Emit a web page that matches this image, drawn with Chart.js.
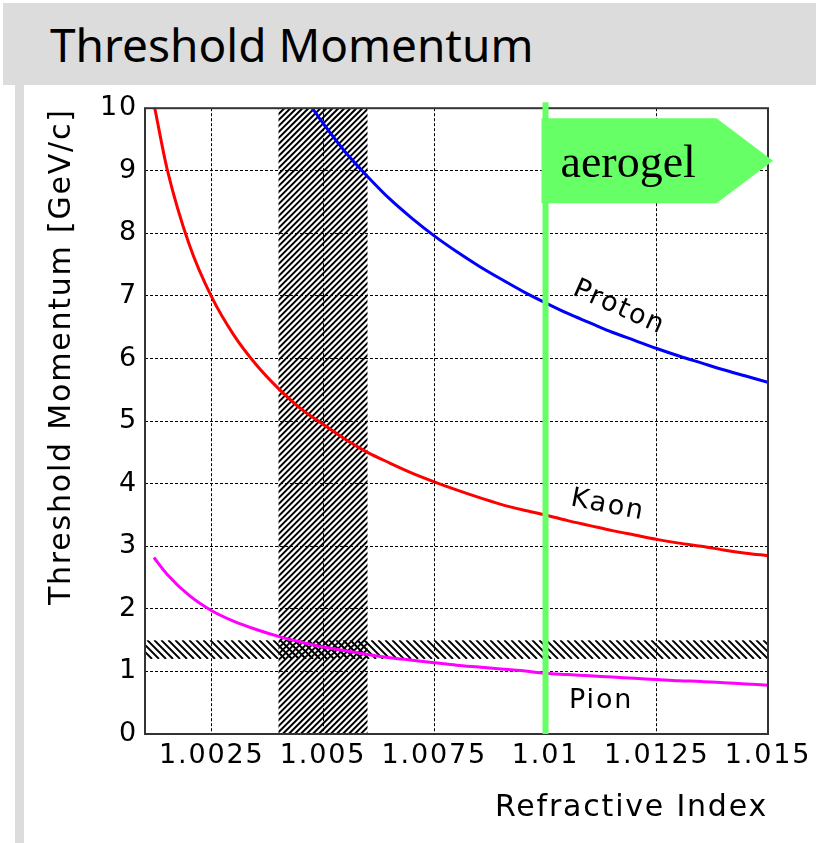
<!DOCTYPE html>
<html>
<head>
<meta charset="utf-8">
<title>Threshold Momentum</title>
<script src="https://cdn.jsdelivr.net/npm/chart.js@4.4.0/dist/chart.umd.min.js"></script>
<style>
    body { margin: 0; background: #ffffff; width: 816px; height: 843px; overflow: hidden; position: relative; }
    #Header { position: absolute; left: 3px; top: 3px; width: 813px; height: 82px; background: #dcdcdc; }
    #Header h1 { margin: 0; position: absolute; left: 47px; top: 10px; font: 400 46px "Comic Sans MS", "Noto Sans", sans-serif; color: #000; white-space: nowrap; }
    #Strip { position: absolute; left: 15px; top: 85px; width: 9px; height: 758px; background: #dcdcdc; }
    #ChartBox { position: absolute; left: 24px; top: 85px; width: 792px; height: 758px; }
</style>
</head>
<body>
<div id="Header"><h1>Threshold Momentum</h1></div>
<div id="Strip"></div>
<div id="ChartBox"><canvas id="ChartCanvas"></canvas></div>

<script>
// Axis ticks
const xTicks = [1.0025, 1.005, 1.0075, 1.01, 1.0125, 1.015];
const xTickLabels = ['1.0025', '1.005', '1.0075', '1.01', '1.0125', '1.015'];

// Curves (refractive index -> threshold momentum in GeV/c)
const protonIndex = [1.00476, 1.005, 1.0055, 1.006, 1.0065, 1.007, 1.0075, 1.008, 1.0085, 1.009, 1.0095,
                     1.01, 1.0105, 1.011, 1.0115, 1.012, 1.0125, 1.013, 1.0135, 1.014, 1.0145, 1.015];
const protonMomentum = [10.0, 9.76, 9.30, 8.91, 8.55, 8.24, 7.96, 7.71, 7.48, 7.27, 7.07,
                        6.89, 6.72, 6.57, 6.42, 6.29, 6.16, 6.04, 5.93, 5.82, 5.72, 5.62];

const kaonIndex = [1.00122, 1.0015, 1.002, 1.0025, 1.003, 1.0035, 1.004, 1.0045, 1.005, 1.0055, 1.006,
                   1.0065, 1.007, 1.0075, 1.008, 1.0085, 1.009, 1.0095, 1.01, 1.0105, 1.011,
                   1.0115, 1.012, 1.0125, 1.013, 1.0135, 1.014, 1.0145, 1.015];
const kaonMomentum = [10.0, 9.02, 7.81, 6.98, 6.37, 5.90, 5.52, 5.20, 4.95, 4.71, 4.50,
                      4.33, 4.17, 4.03, 3.90, 3.78, 3.67, 3.58, 3.50, 3.41, 3.33,
                      3.25, 3.18, 3.11, 3.05, 3.00, 2.94, 2.89, 2.85];

const pionIndex = [1.0012, 1.0015, 1.002, 1.0025, 1.003, 1.0035, 1.004, 1.0045, 1.005, 1.0055, 1.006,
                   1.0065, 1.007, 1.0075, 1.008, 1.0085, 1.009, 1.0095, 1.01, 1.0105, 1.011,
                   1.0115, 1.012, 1.0125, 1.013, 1.0135, 1.014, 1.0145, 1.015];
const pionMomentum = [2.82, 2.55, 2.21, 1.97, 1.80, 1.67, 1.56, 1.47, 1.39, 1.33, 1.27,
                      1.22, 1.18, 1.14, 1.10, 1.07, 1.04, 1.01, 0.97, 0.95, 0.93,
                      0.91, 0.89, 0.87, 0.85, 0.84, 0.82, 0.80, 0.78];

// Hatched bands and the aerogel marker
const indexBand = [1.004, 1.006];
const momentumBand = [1.2, 1.5];
const aerogelIndex = 1.01;

Initialize();

function Initialize()
{
    const ctx = document.getElementById('ChartCanvas').getContext('2d');
    const tickFont = { family: '"DejaVu Sans", sans-serif', size: 27 };
    const titleFont = { family: '"DejaVu Sans", sans-serif', size: 30 };

    new Chart(ctx,
    {
        type: 'line',
        data:
        {
            datasets:
            [
                MakeSeries('Proton', protonIndex, protonMomentum, '#0000ff'),
                MakeSeries('Kaon', kaonIndex, kaonMomentum, '#ff0000'),
                MakeSeries('Pion', pionIndex, pionMomentum, '#ff00ff')
            ]
        },
        options:
        {
            responsive: true,
            maintainAspectRatio: false,
            animation: false,
            layout: { padding: { top: 22, right: 48, left: 0, bottom: 0 } },
            plugins: { legend: { display: false }, tooltip: { enabled: false } },
            scales:
            {
                x:
                {
                    type: 'linear',
                    min: 1.001,
                    max: 1.015,
                    afterBuildTicks: scale => { scale.ticks = xTicks.map(v => ({ value: v })); },
                    afterFit: scale => { scale.height = 109; },
                    ticks:
                    {
                        color: '#000',
                        font: tickFont,
                        padding: 6,
                        maxRotation: 0,
                        autoSkip: false,
                        callback: value => xTickLabels[xTicks.indexOf(value)]
                    },
                    grid: { color: '#000', lineWidth: 1, drawTicks: false },
                    border: { display: false, dash: [3, 2] },
                    title:
                    {
                        display: true,
                        text: 'Refractive Index',
                        align: 'end',
                        color: '#000',
                        font: titleFont,
                        padding: { top: 0, bottom: 17 }
                    }
                },
                y:
                {
                    min: 0,
                    max: 10,
                    afterFit: scale => { scale.width = 121; },
                    ticks: { stepSize: 1, color: '#000', font: tickFont, padding: 7 },
                    grid: { color: '#000', lineWidth: 1, drawTicks: false },
                    border: { display: false, dash: [3, 2] },
                    title:
                    {
                        display: true,
                        text: 'Threshold Momentum [GeV/c]',
                        align: 'end',
                        color: '#000',
                        font: titleFont,
                        padding: { top: 20, bottom: 0 }
                    }
                }
            }
        },
        plugins: [OverlayPlugin()]
    });
}

function MakeSeries(name, xs, ys, color)
{
    return {
        label: name,
        data: xs.map((x, i) => ({ x: x, y: ys[i] })),
        borderColor: color,
        borderWidth: 3,
        pointRadius: 0,
        cubicInterpolationMode: 'monotone',
        fill: false
    };
}

function Hatch(ctx, x0, y0, x1, y1, upward, gap)
{
    ctx.save();
    ctx.beginPath();
    ctx.rect(x0, y0, x1 - x0, y1 - y0);
    ctx.clip();
    ctx.strokeStyle = '#000';
    ctx.lineWidth = 2;
    const h = y1 - y0;
    ctx.beginPath();
    for (let x = x0 - h; x < x1 + h; x += gap)
    {
        if (upward) { ctx.moveTo(x, y1); ctx.lineTo(x + h, y0); }
        else { ctx.moveTo(x, y0); ctx.lineTo(x + h, y1); }
    }
    ctx.stroke();
    ctx.restore();
}

function OverlayPlugin()
{
    return {
        id: 'overlay',
        beforeDraw(chart)
        {
            // the ROOT-style labels are spaced out a little
            chart.ctx.letterSpacing = '1.8px';
        },
        beforeDatasetsDraw(chart)
        {
            const { ctx, chartArea: a, scales: { x, y } } = chart;
            // Hatched regions behind the curves
            Hatch(ctx, x.getPixelForValue(indexBand[0]), a.top, x.getPixelForValue(indexBand[1]), a.bottom, true, 6);
            Hatch(ctx, a.left, y.getPixelForValue(momentumBand[1]), a.right, y.getPixelForValue(momentumBand[0]), false, 7);
        },
        afterDatasetsDraw(chart)
        {
            const { ctx, chartArea: a, scales: { x, y } } = chart;
            ctx.save();

            // Plot frame
            ctx.strokeStyle = '#333';
            ctx.lineWidth = 2;
            ctx.strokeRect(a.left, a.top, a.right - a.left, a.bottom - a.top);

            // Curve labels
            ctx.fillStyle = '#000';
            DrawLabel(ctx, 'Proton', x.getPixelForValue(1.01165), y.getPixelForValue(6.81), 24, '27px "DejaVu Sans", sans-serif');
            DrawLabel(ctx, 'Kaon', x.getPixelForValue(1.0114), y.getPixelForValue(3.65), 11, '27px "DejaVu Sans", sans-serif');
            DrawLabel(ctx, 'Pion', x.getPixelForValue(1.01125), y.getPixelForValue(0.52), 0, '27px "DejaVu Sans", sans-serif');

            // Aerogel line
            const gx = x.getPixelForValue(aerogelIndex);
            ctx.strokeStyle = '#66ff66';
            ctx.lineWidth = 6;
            ctx.beginPath();
            ctx.moveTo(gx, a.top - 6);
            ctx.lineTo(gx, a.bottom);
            ctx.stroke();

            // Aerogel arrow flag
            const left = gx - 4;
            const top = a.top + 10;
            const bottom = top + 85;
            ctx.fillStyle = '#66ff66';
            ctx.beginPath();
            ctx.moveTo(left, top);
            ctx.lineTo(left + 175, top);
            ctx.lineTo(a.right + 5, (top + bottom) / 2);
            ctx.lineTo(left + 175, bottom);
            ctx.lineTo(left, bottom);
            ctx.closePath();
            ctx.fill();
            ctx.fillStyle = '#000';
            ctx.letterSpacing = '0px';
            ctx.font = '46px "Liberation Serif", serif';
            ctx.textAlign = 'left';
            ctx.textBaseline = 'alphabetic';
            ctx.fillText('aerogel', left + 19, top + 59);

            ctx.restore();
        }
    };
}

function DrawLabel(ctx, text, px, py, angle, font)
{
    ctx.save();
    ctx.translate(px, py);
    ctx.rotate(angle * Math.PI / 180);
    ctx.font = font;
    ctx.textAlign = 'center';
    ctx.textBaseline = 'middle';
    ctx.fillText(text, 0, 0);
    ctx.restore();
}
</script>
</body>
</html>
